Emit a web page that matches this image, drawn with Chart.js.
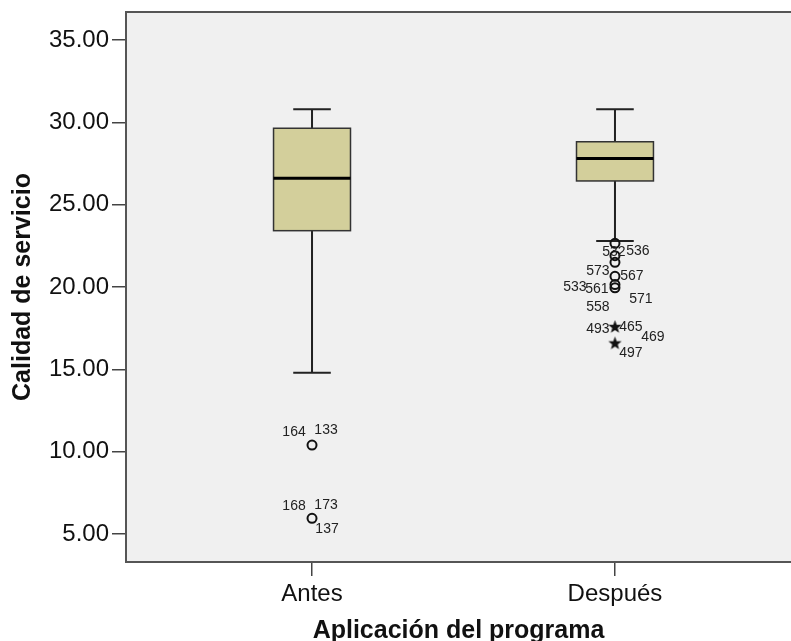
<!DOCTYPE html>
<html>
<head>
<meta charset="utf-8">
<script src="https://cdn.jsdelivr.net/npm/chart.js@4/dist/chart.umd.min.js"></script>
<style>
  body { margin: 0; background: #fff; overflow: hidden; }
  canvas { display: block; }
</style>
</head>
<body>
<canvas id="box-chart" width="791" height="641"></canvas>
<script>
// data
const categories = ['Antes', 'Después'];
const whiskerLow = [14.8, 22.8];
const q1 = [23.42, 26.44];
const median = [26.6, 27.8];
const q3 = [29.64, 28.82];
const whiskerHigh = [30.8, 30.8];

// outliers: group index, value, marker (o = outlier, * = extreme)
const outlierGroup = [0, 0, 1, 1, 1, 1, 1, 1, 1, 1];
const outlierValue = [10.4, 5.95, 22.65, 21.9, 21.5, 20.65, 20.15, 19.95, 17.6, 16.6];
const outlierKind = ['o', 'o', 'o', 'o', 'o', 'o', 'o', 'o', '*', '*'];

// case numbers and the outlier each one belongs to
const caseLabels = ['164', '133', '168', '173', '137', '532', '536', '573', '567', '533', '561', '571', '558', '493', '465', '469', '497'];
const casePoint = [0, 0, 1, 1, 1, 2, 2, 5, 5, 6, 6, 7, 7, 8, 8, 8, 9];

const yTicks = [5, 10, 15, 20, 25, 30, 35];

// label offsets in px from the marker (layout only)
const caseOffset = [[-18, -13], [14, -15], [-18, -12], [14, -13], [15, 11], [-1, 9], [23, 8],
  [-17, -5], [17, 0], [-40, 3], [-18, 5], [26, 11], [-17, 19], [-17, 3], [16, 1], [38, 11], [16, 10]];

const FONT = '"Liberation Sans", Arial, sans-serif';

function makeStar() {
    const c = document.createElement('canvas');
    c.width = 15; c.height = 15;
    const g = c.getContext('2d');
    g.fillStyle = '#111';
    g.beginPath();
    for (let i = 0; i < 10; i++) {
        const r = i % 2 === 0 ? 7 : 2.9;
        const a = -Math.PI / 2 + i * Math.PI / 5;
        const px = 7.5 + r * Math.cos(a), py = 8 + r * Math.sin(a);
        if (i === 0) g.moveTo(px, py); else g.lineTo(px, py);
    }
    g.closePath();
    g.fill();
    return c;
}

const circlePts = [], starPts = [];
outlierValue.forEach((v, i) => {
    const p = { x: outlierGroup[i], y: v };
    if (outlierKind[i] === '*') starPts.push(p); else circlePts.push(p);
});

const boxPlugin = {
    id: 'boxes',
    beforeDatasetsDraw(chart) {
        const { ctx, chartArea: a, scales: { x, y } } = chart;
        ctx.save();
        ctx.fillStyle = '#f0f0f0';
        ctx.fillRect(a.left, a.top, chart.width - a.left, a.bottom - a.top);

        categories.forEach((cat, i) => {
            const cx = x.getPixelForValue(i);
            const half = x.getPixelForValue(i + 0.127) - cx;
            const cap = x.getPixelForValue(i + 0.062) - cx;
            const yLo = y.getPixelForValue(whiskerLow[i]);
            const yHi = y.getPixelForValue(whiskerHigh[i]);
            const y1 = y.getPixelForValue(q1[i]);
            const y3 = y.getPixelForValue(q3[i]);
            const ym = y.getPixelForValue(median[i]);

            ctx.strokeStyle = '#222';
            ctx.lineWidth = 2;
            ctx.beginPath();
            ctx.moveTo(cx, yHi); ctx.lineTo(cx, y3);
            ctx.moveTo(cx, y1); ctx.lineTo(cx, yLo);
            ctx.moveTo(cx - cap, yHi); ctx.lineTo(cx + cap, yHi);
            ctx.moveTo(cx - cap, yLo); ctx.lineTo(cx + cap, yLo);
            ctx.stroke();

            ctx.fillStyle = '#d3cf9b';
            ctx.fillRect(cx - half, y3, 2 * half, y1 - y3);
            ctx.lineWidth = 1.5;
            ctx.strokeStyle = '#333';
            ctx.strokeRect(cx - half, y3, 2 * half, y1 - y3);

            ctx.lineWidth = 3;
            ctx.strokeStyle = '#000';
            ctx.beginPath();
            ctx.moveTo(cx - half, ym); ctx.lineTo(cx + half, ym);
            ctx.stroke();
        });
        ctx.restore();
    },
    afterDatasetsDraw(chart) {
        const { ctx, scales: { x, y } } = chart;
        ctx.save();
        ctx.font = '14px ' + FONT;
        ctx.fillStyle = '#222';
        ctx.textAlign = 'center';
        ctx.textBaseline = 'middle';
        caseLabels.forEach((t, i) => {
            const p = casePoint[i];
            const px = x.getPixelForValue(outlierGroup[p]) + caseOffset[i][0];
            const py = y.getPixelForValue(outlierValue[p]) + caseOffset[i][1];
            ctx.fillText(t, px, py);
        });
        ctx.restore();
    },
    afterDraw(chart) {
        const { ctx, chartArea: a } = chart;
        ctx.save();
        ctx.strokeStyle = '#555';
        ctx.lineWidth = 2;
        ctx.beginPath();
        ctx.moveTo(chart.width, a.top);
        ctx.lineTo(a.left, a.top);
        ctx.lineTo(a.left, a.bottom);
        ctx.lineTo(chart.width, a.bottom);
        ctx.stroke();
        ctx.restore();
    }
};

const ctx = document.getElementById('box-chart').getContext('2d');
new Chart(ctx, {
    type: 'scatter',
    data: {
        datasets: [
            { data: circlePts, pointStyle: 'circle', pointRadius: 4.5, borderWidth: 2,
              borderColor: '#111', backgroundColor: 'rgba(0,0,0,0)' },
            { data: starPts, pointStyle: makeStar(), pointRadius: 7 }
        ]
    },
    options: {
        responsive: false,
        animation: false,
        layout: { autoPadding: false, padding: { top: 12, right: 0, left: 0, bottom: 0 } },
        plugins: { legend: { display: false }, tooltip: { enabled: false } },
        scales: {
            x: {
                type: 'linear',
                min: -0.614,
                max: 1.581,
                afterBuildTicks: s => { s.ticks = categories.map((c, i) => ({ value: i })); },
                afterFit: s => { s.height = 79; s.paddingLeft = 0; s.paddingRight = 0; },
                border: { display: false },
                grid: { drawOnChartArea: false, drawTicks: true, tickLength: 14, color: '#444', lineWidth: 1.5 },
                ticks: {
                    callback: v => categories[v],
                    color: '#111',
                    padding: 4,
                    maxRotation: 0,
                    font: { family: FONT, size: 24 }
                },
                title: {
                    display: true,
                    text: 'Aplicación del programa',
                    color: '#111',
                    padding: { top: 0, bottom: 0 },
                    font: { family: FONT, size: 25, weight: 'bold', lineHeight: 0.8 }
                }
            },
            y: {
                min: 3.3,
                max: 36.7,
                afterBuildTicks: s => { s.ticks = yTicks.map(v => ({ value: v })); },
                afterFit: s => { s.width = 126; s.paddingTop = 0; s.paddingBottom = 0; },
                border: { display: false },
                grid: { drawOnChartArea: false, drawTicks: true, tickLength: 14, color: '#444', lineWidth: 1.5 },
                ticks: {
                    callback: v => Number(v).toFixed(2),
                    color: '#111',
                    padding: 3,
                    font: { family: FONT, size: 24 }
                },
                title: {
                    display: true,
                    text: 'Calidad de servicio',
                    color: '#111',
                    padding: { top: 8, bottom: 0 },
                    font: { family: FONT, size: 25, weight: 'bold' }
                }
            }
        }
    },
    plugins: [boxPlugin]
});
</script>
</body>
</html>
